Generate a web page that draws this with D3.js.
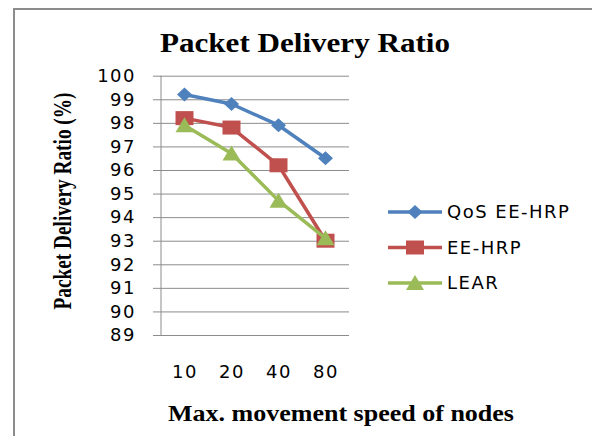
<!DOCTYPE html>
<html>
<head>
<meta charset="utf-8">
<script src="https://cdn.jsdelivr.net/npm/d3@7"></script>
<style>
  body { margin: 0; background: #fff; }
  svg { display: block; }
</style>
</head>
<body>
<svg id="chart" width="592" height="436"></svg>
<script>
const speeds = ["10", "20", "40", "80"];
const qosEeHrp = [99.2, 98.8, 97.9, 96.5];
const eeHrp = [98.2, 97.8, 96.2, 93.0];
const lear = [97.9, 96.7, 94.7, 93.1];
const yTicks = [89, 90, 91, 92, 93, 94, 95, 96, 97, 98, 99, 100];

const series = [
  {name: "QoS EE-HRP", values: qosEeHrp, color: "#4f81bd", marker: "diamond"},
  {name: "EE-HRP", values: eeHrp, color: "#c0504d", marker: "square"},
  {name: "LEAR", values: lear, color: "#9bbb59", marker: "triangle"}
];

const svg = d3.select("#chart");

// outer frame (right and bottom sides fall outside the picture)
svg.append("path")
  .attr("d", "M14,436 L14,9 L592,9")
  .attr("fill", "none")
  .attr("stroke", "#8c8c8c")
  .attr("stroke-width", 2);

const plot = {left: 161, right: 349, top: 75.7, bottom: 335};

const x = d3.scalePoint()
  .domain(speeds)
  .range([plot.left, plot.right])
  .padding(0.5);

const y = d3.scaleLinear()
  .domain([89, 100])
  .range([plot.bottom, plot.top]);

const labelFont = sel => sel
  .style("font-family", "DejaVu Sans, sans-serif")
  .style("font-size", "18px")
  .style("letter-spacing", "1.5px");

// gridlines + y labels
const yAxis = d3.axisLeft(y)
  .tickValues(yTicks)
  .tickSize(-(plot.right - plot.left) - 8)
  .tickPadding(17)
  .tickFormat(d3.format("d"));

const gy = svg.append("g")
  .attr("transform", `translate(${plot.left - 8},0)`)
  .call(yAxis);
gy.select(".domain").remove();
gy.selectAll(".tick line")
  .attr("x1", 0)
  .attr("x2", plot.right - plot.left + 8)
  .attr("stroke", "#8c8c8c")
  .attr("stroke-width", 1);
gy.selectAll(".tick text")
  .attr("fill", "#000")
  .call(labelFont);

// vertical axis line
svg.append("line")
  .attr("x1", plot.left).attr("x2", plot.left)
  .attr("y1", plot.top).attr("y2", plot.bottom)
  .attr("stroke", "#8c8c8c");

// x labels
const xAxis = d3.axisBottom(x).tickSize(0).tickPadding(30);
const gx = svg.append("g")
  .attr("transform", `translate(0,${plot.bottom})`)
  .call(xAxis);
gx.select(".domain").remove();
gx.selectAll(".tick text")
  .attr("fill", "#000")
  .call(labelFont);

const line = d3.line()
  .x((d, i) => x(speeds[i]))
  .y(d => y(d));

function drawMarker(g, type, color) {
  if (type === "diamond") {
    g.append("path").attr("d", "M0,-7 L7.5,0 L0,7 L-7.5,0 Z").attr("fill", color);
  } else if (type === "square") {
    g.append("rect").attr("x", -9).attr("y", -7).attr("width", 18).attr("height", 14).attr("fill", color);
  } else {
    g.append("path").attr("d", "M0,-8 L9,7 L-9,7 Z").attr("fill", color);
  }
}

series.forEach(s => {
  svg.append("path")
    .datum(s.values)
    .attr("d", line)
    .attr("fill", "none")
    .attr("stroke", s.color)
    .attr("stroke-width", 3.5)
    .attr("stroke-linejoin", "round");

  s.values.forEach((v, i) => {
    const g = svg.append("g").attr("transform", `translate(${x(speeds[i])},${y(v)})`);
    drawMarker(g, s.marker, s.color);
  });
});

// legend
const legend = svg.append("g");
series.forEach((s, i) => {
  const ly = 212 + i * 35.5;
  legend.append("line")
    .attr("x1", 388).attr("x2", 442)
    .attr("y1", ly).attr("y2", ly)
    .attr("stroke", s.color)
    .attr("stroke-width", 3.5);
  const g = legend.append("g").attr("transform", `translate(415,${ly})`);
  drawMarker(g, s.marker, s.color);
  legend.append("text")
    .attr("x", 447)
    .attr("y", ly)
    .attr("dy", "0.35em")
    .call(labelFont)
    .text(s.name);
});

// titles
svg.append("text")
  .attr("x", 305).attr("y", 52)
  .attr("text-anchor", "middle")
  .attr("textLength", 290)
  .attr("lengthAdjust", "spacingAndGlyphs")
  .style("font-family", "Liberation Serif, serif")
  .style("font-weight", "bold")
  .style("font-size", "28px")
  .text("Packet Delivery Ratio");

svg.append("text")
  .attr("x", 341).attr("y", 421)
  .attr("text-anchor", "middle")
  .attr("textLength", 346)
  .attr("lengthAdjust", "spacingAndGlyphs")
  .style("font-family", "Liberation Serif, serif")
  .style("font-weight", "bold")
  .style("font-size", "24px")
  .text("Max. movement speed of nodes");

svg.append("text")
  .attr("transform", "translate(71,201) rotate(-90)")
  .attr("text-anchor", "middle")
  .attr("textLength", 217)
  .attr("lengthAdjust", "spacingAndGlyphs")
  .style("font-family", "Liberation Serif, serif")
  .style("font-weight", "bold")
  .style("font-size", "26px")
  .text("Packet Delivery Ratio (%)");
</script>
</body>
</html>
